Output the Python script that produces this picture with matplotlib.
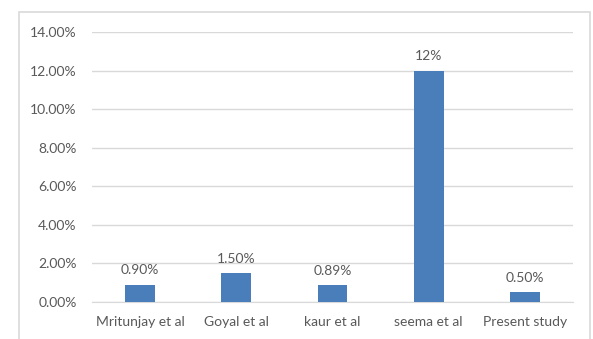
import matplotlib
matplotlib.use('Agg')
import matplotlib.pyplot as plt
from matplotlib.patches import Rectangle
from matplotlib.ticker import FuncFormatter

categories = ['Mritunjay et al', 'Goyal et al', 'kaur et al', 'seema et al', 'Present study']
values = [0.009, 0.015, 0.0089, 0.12, 0.005]
bar_labels = ['0.90%', '1.50%', '0.89%', '12%', '0.50%']
yticks = [0, 0.02, 0.04, 0.06, 0.08, 0.10, 0.12, 0.14]

plt.rcParams['font.family'] = ['Lato', 'DejaVu Sans']
text_color = '#595959'
grid_color = '#d9d9d9'

fig = plt.figure(figsize=(5.93, 3.39), dpi=100)

# outer chart border (bottom edge falls outside the picture)
fig.patches.append(Rectangle((19 / 593, -0.05), (590 - 19) / 593, 1 - 12 / 339 + 0.05,
                             transform=fig.transFigure, fill=False,
                             edgecolor=grid_color, linewidth=1.2))

ax = fig.add_axes([92 / 593, 1 - 302 / 339, (573 - 92) / 593, (302 - 32) / 339])
x = range(len(categories))
ax.bar(x, values, width=0.31, color='#4a7ebb', zorder=3)

for xi, v, lab in zip(x, values, bar_labels):
    ax.annotate(lab, (xi, v), xytext=(0, 6), textcoords='offset points',
                ha='center', va='bottom', fontsize=10, color=text_color)

ax.set_xlim(-0.5, len(categories) - 0.5)
ax.set_ylim(0, 0.14)
ax.set_yticks(yticks)
ax.yaxis.set_major_formatter(FuncFormatter(lambda v, p: f'{v * 100:.2f}%'))
ax.set_xticks(list(x))
ax.set_xticklabels(categories)
ax.tick_params(axis='both', length=0, labelsize=10, labelcolor=text_color)
ax.tick_params(axis='y', pad=11)
ax.tick_params(axis='x', pad=10)

ax.grid(axis='y', color=grid_color, linewidth=1, zorder=0)
for s in ['top', 'right', 'left']:
    ax.spines[s].set_visible(False)
ax.spines['bottom'].set_color(grid_color)

fig.savefig('out.png', dpi=100)
